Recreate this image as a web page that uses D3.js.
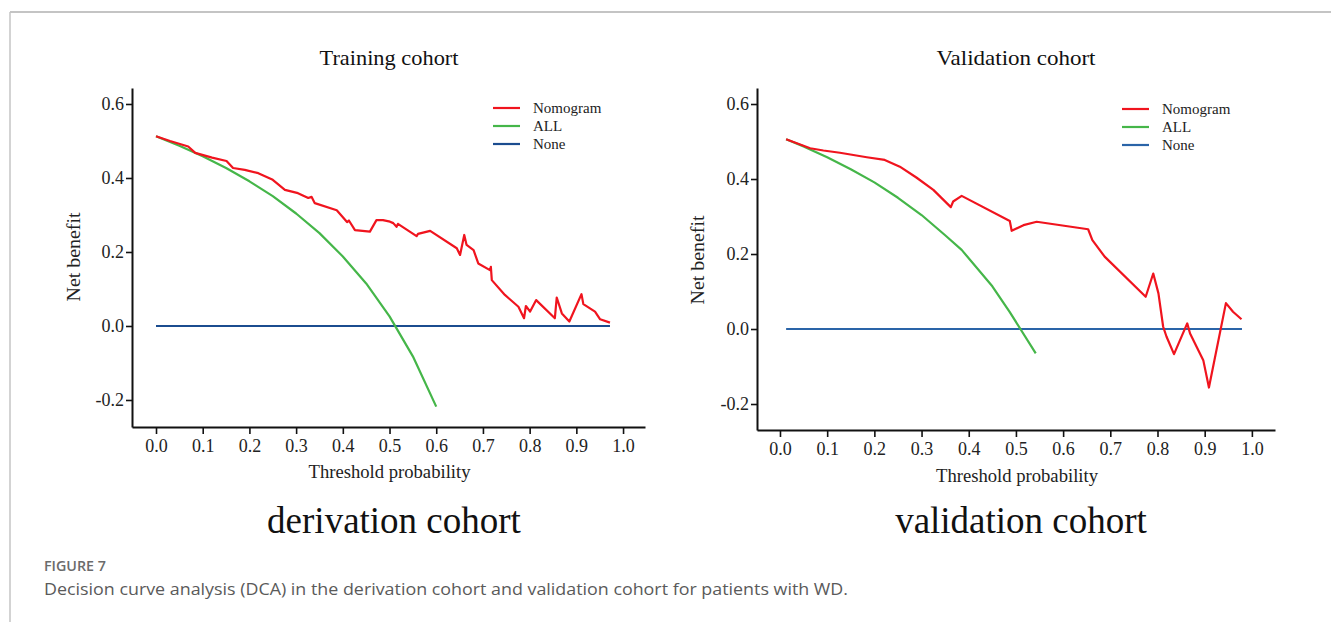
<!DOCTYPE html>
<html lang="en">
<head>
<meta charset="utf-8">
<title>Decision curve analysis</title>
<script src="https://cdn.jsdelivr.net/npm/d3@7"></script>
<style>
    body { margin: 0; background: #fff; }
    svg { display: block; }
    .serif { font-family: "Liberation Serif", "Times New Roman", serif; }
</style>
</head>
<body>
<script>

// ---- data ----
var xTicks = [0, 0.1, 0.2, 0.3, 0.4, 0.5, 0.6, 0.7, 0.8, 0.9, 1.0];
var yTicks = [-0.2, 0.0, 0.2, 0.4, 0.6];
var legendLabels = ["Nomogram", "ALL", "None"];

// training cohort
var trainNomogram = [
    [0.000, 0.513], [0.030, 0.500], [0.069, 0.485], [0.084, 0.468], [0.120, 0.455],
    [0.151, 0.446], [0.165, 0.427], [0.190, 0.422], [0.219, 0.413], [0.250, 0.395],
    [0.276, 0.368], [0.304, 0.359], [0.326, 0.346], [0.333, 0.349], [0.340, 0.332],
    [0.387, 0.313], [0.409, 0.281], [0.413, 0.285], [0.426, 0.259], [0.458, 0.255],
    [0.472, 0.286], [0.486, 0.286], [0.501, 0.282], [0.508, 0.278], [0.515, 0.268],
    [0.518, 0.276], [0.558, 0.243], [0.561, 0.249], [0.587, 0.257], [0.644, 0.210],
    [0.651, 0.192], [0.660, 0.246], [0.665, 0.219], [0.680, 0.205], [0.690, 0.169],
    [0.715, 0.151], [0.717, 0.160], [0.719, 0.124], [0.747, 0.084], [0.776, 0.052],
    [0.788, 0.021], [0.792, 0.054], [0.801, 0.039], [0.814, 0.070], [0.854, 0.021],
    [0.858, 0.077], [0.869, 0.034], [0.885, 0.012], [0.911, 0.086], [0.915, 0.059],
    [0.940, 0.039], [0.951, 0.018], [0.972, 0.009]
];
var trainAll = [
    [0.00, 0.513], [0.05, 0.487], [0.10, 0.459], [0.15, 0.427], [0.20, 0.391],
    [0.25, 0.351], [0.30, 0.304], [0.35, 0.251], [0.40, 0.188], [0.45, 0.115],
    [0.50, 0.026], [0.55, -0.082], [0.60, -0.218]
];
var trainNone = [[0.000, 0], [0.972, 0]];

// validation cohort
var validNomogram = [
    [0.013, 0.506], [0.064, 0.482], [0.092, 0.476], [0.127, 0.470], [0.184, 0.458],
    [0.222, 0.451], [0.254, 0.433], [0.289, 0.404], [0.325, 0.371], [0.362, 0.325],
    [0.367, 0.340], [0.385, 0.355], [0.487, 0.288], [0.491, 0.262], [0.516, 0.277],
    [0.544, 0.286], [0.653, 0.266], [0.662, 0.237], [0.688, 0.193], [0.775, 0.086],
    [0.791, 0.148], [0.802, 0.095], [0.812, 0.006], [0.819, -0.020], [0.835, -0.067],
    [0.863, 0.015], [0.869, -0.012], [0.897, -0.083], [0.909, -0.156], [0.945, 0.069],
    [0.960, 0.046], [0.978, 0.026]
];
var validAll = [
    [0.013, 0.506], [0.05, 0.487], [0.10, 0.458], [0.15, 0.426], [0.20, 0.391],
    [0.25, 0.350], [0.30, 0.304], [0.35, 0.250], [0.385, 0.211], [0.45, 0.114],
    [0.487, 0.045], [0.542, -0.065]
];
var validNone = [[0.013, 0], [0.979, 0]];

var W = 1331, H = 622;
var fmt = function (d) { return d3.format(".1f")(d).replace("\u2212", "-"); };

var svg = d3.select("body").append("svg")
    .attr("width", W)
    .attr("height", H);

// page frame
svg.append("line").attr("x1", 10).attr("x2", W).attr("y1", 12).attr("y2", 12)
    .attr("stroke", "#c4c4c4").attr("stroke-width", 2);
svg.append("line").attr("x1", 10).attr("x2", 10).attr("y1", 12).attr("y2", H)
    .attr("stroke", "#c4c4c4").attr("stroke-width", 1.5);

function drawPanel(p) {
    var x = d3.scaleLinear().domain(p.xDomain).range(p.xRange);
    var y = d3.scaleLinear().domain(p.yDomain).range(p.yRange);
    var g = svg.append("g").attr("class", "serif");

    var xAxis = g.append("g")
        .attr("transform", "translate(0," + p.yRange[0] + ")")
        .call(d3.axisBottom(x).tickValues(xTicks).tickFormat(fmt)
            .tickSize(7).tickPadding(5).tickSizeOuter(0));
    var yAxis = g.append("g")
        .attr("transform", "translate(" + p.xRange[0] + ",0)")
        .call(d3.axisLeft(y).tickValues(yTicks).tickFormat(fmt)
            .tickSize(6).tickPadding(2).tickSizeOuter(0));

    [xAxis, yAxis].forEach(function (a) {
        a.select(".domain").attr("stroke", "#111").attr("stroke-width", 2);
        a.selectAll(".tick line").attr("stroke", "#111").attr("stroke-width", 1.6);
        a.selectAll(".tick text")
            .attr("font-family", "Liberation Serif, Times New Roman, serif")
            .attr("font-size", 18).attr("fill", "#222");
    });

    var line = d3.line()
        .x(function (d) { return x(d[0]); })
        .y(function (d) { return y(d[1]); });

    var series = [
        { data: p.none, color: p.blue },
        { data: p.all, color: "#45b649" },
        { data: p.nomogram, color: "#f0141e" }
    ];
    series.forEach(function (s) {
        g.append("path")
            .datum(s.data)
            .attr("fill", "none")
            .attr("stroke", s.color)
            .attr("stroke-width", 2.2)
            .attr("stroke-linejoin", "round")
            .attr("d", line);
    });

    // legend
    var legColors = ["#f0141e", "#45b649", p.blue];
    legendLabels.forEach(function (lab, i) {
        var ly = p.legend[1] + i * 18;
        g.append("line")
            .attr("x1", p.legend[0]).attr("x2", p.legend[0] + 27)
            .attr("y1", ly).attr("y2", ly)
            .attr("stroke", legColors[i]).attr("stroke-width", 2.2);
        g.append("text")
            .attr("x", p.legend[0] + 40).attr("y", ly + 5)
            .attr("font-size", 15).attr("fill", "#222")
            .text(lab);
    });

    var cx = (p.xRange[0] + p.xRange[1]) / 2 + 1;
    g.append("text")
        .attr("x", p.titleX).attr("y", 65)
        .attr("text-anchor", "middle")
        .attr("font-size", 21).attr("fill", "#111")
        .attr("textLength", p.titleW).attr("lengthAdjust", "spacingAndGlyphs")
        .text(p.title);
    g.append("text")
        .attr("x", cx).attr("y", p.xLabelY)
        .attr("text-anchor", "middle")
        .attr("font-size", 18).attr("fill", "#222")
        .attr("textLength", 162).attr("lengthAdjust", "spacingAndGlyphs")
        .text("Threshold probability");
    g.append("text")
        .attr("transform", "translate(" + p.yLabelX + "," + p.yLabelCY + ") rotate(-90)")
        .attr("text-anchor", "middle")
        .attr("font-size", 18).attr("fill", "#222")
        .attr("textLength", 89).attr("lengthAdjust", "spacingAndGlyphs")
        .text("Net benefit");
    g.append("text")
        .attr("x", p.bigX).attr("y", 533)
        .attr("text-anchor", "middle")
        .attr("font-size", 37).attr("fill", "#111")
        .text(p.bigLabel);
}

drawPanel({
    title: "Training cohort", titleX: 389, titleW: 139,
    bigLabel: "derivation cohort", bigX: 394,
    xDomain: [-0.0514, 1.047], xRange: [132, 645],
    yDomain: [-0.273, 0.6432], yRange: [427, 88],
    xLabelY: 478, yLabelX: 80, yLabelCY: 257,
    legend: [493, 108],
    nomogram: trainNomogram, all: trainAll, none: trainNone,
    blue: "#1b4c8f"
});

drawPanel({
    title: "Validation cohort", titleX: 1016, titleW: 159,
    bigLabel: "validation cohort", bigX: 1021,
    xDomain: [-0.0487, 1.049], xRange: [757, 1275],
    yDomain: [-0.2693, 0.6427], yRange: [430, 88],
    xLabelY: 482, yLabelX: 704, yLabelCY: 260,
    legend: [1122, 109],
    nomogram: validNomogram, all: validAll, none: validNone,
    blue: "#2a64a8"
});

// caption
svg.append("text")
    .attr("x", 44).attr("y", 571)
    .attr("font-family", "Open Sans, Noto Sans, sans-serif")
    .attr("font-size", 14).attr("font-weight", 600).attr("fill", "#6b6b6b")
    .attr("textLength", 62).attr("lengthAdjust", "spacingAndGlyphs")
    .text("FIGURE 7");
svg.append("text")
    .attr("x", 44).attr("y", 595)
    .attr("font-family", "Open Sans, Noto Sans, sans-serif")
    .attr("font-size", 17).attr("fill", "#5a5a5a")
    .attr("textLength", 804).attr("lengthAdjust", "spacingAndGlyphs")
    .text("Decision curve analysis (DCA) in the derivation cohort and validation cohort for patients with WD.");

</script>
</body>
</html>
